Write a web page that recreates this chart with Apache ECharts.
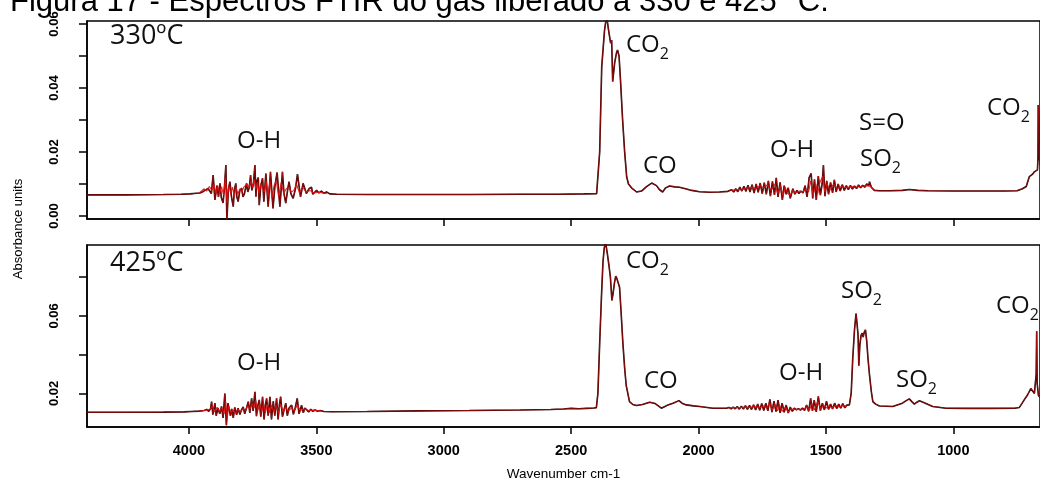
<!DOCTYPE html>
<html>
<head>
<meta charset="utf-8">
<script src="https://cdn.jsdelivr.net/npm/echarts@6/dist/echarts.min.js"></script>
<style>
html,body{margin:0;padding:0;background:#fff;}
#c{width:1040px;height:482px;}
</style>
</head>
<body>
<div id="c"></div>
<script>
// ---------- data (wavenumber cm-1, absorbance) ----------
const spec330 = [
[4400,0.0066],[4250,0.0066],[4100,0.0067],[4030,0.0068],[3996,0.0069],[3970,0.0071],[3957,0.0072],[3945,0.0076],[3937,0.0080],[3930,0.0074],[3925,0.0086],[3918,0.0090],[3912,0.0070],[3905,0.0128],[3898,0.0050],[3890,0.0095],[3884,0.0060],[3878,0.0102],[3873,0.0058],[3866,0.0041],[3861,0.0085],[3855,0.0159],[3851,-0.0013],[3845,0.0085],[3839,0.0107],[3833,0.0060],[3826,0.0029],[3822,0.0080],[3816,0.0102],[3812,0.0060],[3807,0.0045],[3800,0.0080],[3793,0.0087],[3788,0.0060],[3782,0.0070],[3774,0.0102],[3769,0.0075],[3763,0.0090],[3758,0.0128],[3753,0.0080],[3747,0.0100],[3741,0.0159],[3737,0.0060],[3733,0.0110],[3728,0.0120],[3724,0.0034],[3718,0.0095],[3711,0.0118],[3706,0.0045],[3698,0.0133],[3689,0.0029],[3680,0.0138],[3670,0.0024],[3663,0.0090],[3654,0.0136],[3643,0.0029],[3633,0.0138],[3627,0.0070],[3620,0.0040],[3612,0.0085],[3607,0.0107],[3600,0.0070],[3591,0.0055],[3582,0.0085],[3574,0.0131],[3562,0.0060],[3552,0.0102],[3539,0.0070],[3529,0.0085],[3519,0.0090],[3514,0.0068],[3499,0.0080],[3490,0.0072],[3480,0.0078],[3471,0.0071],[3460,0.0075],[3447,0.0069],[3420,0.0068],[3300,0.0067],[3100,0.0067],[2900,0.0067],[2700,0.0068],[2550,0.0068],[2450,0.0069],[2400,0.0070],[2396,0.0071],[2388,0.0200],[2380,0.0466],[2369,0.0580],[2361,0.0625],[2353,0.0580],[2345,0.0540],[2341,0.0550],[2337,0.0420],[2329,0.0480],[2322,0.0510],[2318,0.0519],[2312,0.0500],[2306,0.0420],[2298,0.0300],[2290,0.0200],[2282,0.0122],[2275,0.0100],[2263,0.0088],[2243,0.0075],[2224,0.0078],[2204,0.0092],[2184,0.0103],[2165,0.0095],[2153,0.0082],[2141,0.0075],[2129,0.0088],[2114,0.0094],[2094,0.0091],[2075,0.0090],[2051,0.0085],[2027,0.0080],[1996,0.0076],[1957,0.0074],[1918,0.0075],[1885,0.0077],
[1878,0.0078],[1870,0.0082],[1862,0.0075],[1854,0.0085],[1846,0.0076],[1838,0.0090],[1830,0.0078],[1822,0.0093],[1814,0.0077],[1806,0.0096],[1798,0.0075],[1790,0.0098],[1782,0.0072],[1774,0.0100],[1766,0.0074],[1758,0.0103],[1750,0.0070],[1742,0.0104],[1734,0.0068],[1726,0.0110],[1718,0.0062],[1710,0.0108],[1702,0.0066],[1695,0.0119],[1688,0.0060],[1680,0.0105],[1671,0.0050],[1664,0.0095],[1656,0.0068],[1648,0.0088],[1640,0.0055],[1637,0.0050],[1630,0.0085],[1622,0.0068],[1614,0.0080],[1606,0.0070],[1598,0.0078],[1590,0.0072],[1582,0.0095],[1574,0.0060],[1566,0.0120],[1558,0.0133],[1552,0.0055],[1545,0.0115],[1538,0.0050],[1530,0.0125],[1522,0.0065],[1515,0.0100],[1510,0.0159],[1504,0.0062],[1497,0.0110],[1490,0.0068],[1482,0.0105],[1474,0.0072],[1467,0.0113],[1460,0.0075],[1452,0.0100],[1444,0.0078],[1436,0.0098],[1428,0.0080],[1420,0.0095],[1412,0.0082],[1404,0.0096],[1396,0.0084],[1388,0.0094],[1380,0.0086],[1372,0.0097],[1364,0.0088],[1356,0.0096],[1348,0.0090],[1340,0.0100],[1332,0.0095],[1329,0.0107],[1322,0.0090],[1310,0.0080],[1290,0.0079],
[1250,0.0079],[1200,0.0080],[1173,0.0083],[1140,0.0080],[1100,0.0079],[1000,0.0078],[900,0.0078],[800,0.0078],[750,0.0079],[729,0.0085],[714,0.0092],[702,0.0123],[690,0.0130],[682,0.0138],[675,0.0142],[670,0.0144],[668,0.0180],[667,0.0347],[665,0.0300],[662,0.0180],[660,0.0160]
];
const red330OH = [
[3960,0.0072],[3940,0.0085],[3930,0.0078],[3920,0.0092],[3910,0.0080],[3902,0.0100],[3894,0.0070],[3887,0.0095],[3880,0.0072],[3872,0.0092],[3864,0.0065],[3857,0.0120],[3850,0.0040],[3843,0.0095],[3836,0.0070],[3829,0.0090],[3822,0.0060],[3815,0.0090],[3808,0.0068],[3800,0.0085],[3792,0.0075],[3785,0.0090],[3778,0.0085],[3771,0.0100],[3764,0.0088],[3757,0.0110],[3750,0.0090],[3744,0.0115],[3738,0.0085],[3731,0.0105],[3725,0.0070],[3718,0.0100],[3711,0.0085],[3704,0.0075],[3697,0.0110],[3690,0.0060],[3682,0.0110],[3674,0.0055],[3666,0.0095],[3657,0.0110],[3648,0.0060],[3638,0.0105],[3628,0.0070],[3618,0.0085],[3608,0.0090],[3598,0.0075],[3588,0.0080],[3578,0.0100],[3566,0.0072],[3554,0.0090],[3540,0.0075],[3525,0.0080],[3510,0.0072],[3490,0.0074],[3460,0.0070]
];
const red330Low = [
[1870,0.0080],[1850,0.0083],[1830,0.0082],[1810,0.0088],[1790,0.0090],[1775,0.0085],[1760,0.0095],[1745,0.0088],[1730,0.0098],[1715,0.0080],[1700,0.0100],[1690,0.0070],[1678,0.0095],[1668,0.0062],[1660,0.0090],[1650,0.0070],[1640,0.0065],[1632,0.0080],[1620,0.0072],[1605,0.0078],[1590,0.0075],[1578,0.0085],[1568,0.0075],[1560,0.0110],[1550,0.0065],[1540,0.0100],[1532,0.0070],[1524,0.0105],[1512,0.0125],[1505,0.0075],[1495,0.0100],[1485,0.0080],[1470,0.0100],[1455,0.0085],[1440,0.0092],[1420,0.0088],[1400,0.0092],[1380,0.0090],[1360,0.0093],[1340,0.0095],[1325,0.0092],[1310,0.0081]
];
const spec425 = [
[4400,0.0103],[4250,0.0103],[4100,0.0104],[4020,0.0105],[3990,0.0107],[3960,0.0109],[3940,0.0112],[3930,0.0118],[3922,0.0108],[3915,0.0122],[3911,0.0158],[3906,0.0091],[3898,0.0150],[3893,0.0085],[3886,0.0125],[3879,0.0095],[3872,0.0133],[3866,0.0074],[3859,0.0200],[3853,0.0036],[3847,0.0150],[3842,0.0141],[3837,0.0085],[3832,0.0120],[3826,0.0074],[3820,0.0128],[3813,0.0090],[3807,0.0124],[3800,0.0092],[3794,0.0115],[3787,0.0130],[3781,0.0095],[3774,0.0125],[3767,0.0158],[3761,0.0100],[3754,0.0175],[3748,0.0110],[3741,0.0208],[3735,0.0083],[3729,0.0140],[3724,0.0167],[3718,0.0080],[3711,0.0183],[3705,0.0066],[3700,0.0140],[3695,0.0175],[3689,0.0085],[3682,0.0183],[3676,0.0066],[3669,0.0160],[3663,0.0085],[3656,0.0175],[3650,0.0066],[3645,0.0140],[3640,0.0183],[3633,0.0080],[3626,0.0120],[3620,0.0150],[3614,0.0085],[3607,0.0125],[3597,0.0140],[3590,0.0092],[3583,0.0125],[3575,0.0175],[3568,0.0095],[3562,0.0120],[3558,0.0140],[3551,0.0100],[3545,0.0125],[3538,0.0130],[3530,0.0105],[3522,0.0118],[3514,0.0108],[3505,0.0115],[3495,0.0108],[3485,0.0112],[3470,0.0107],[3440,0.0106],
[3300,0.0107],[3100,0.0110],[2900,0.0112],[2700,0.0115],[2580,0.0117],[2530,0.0120],[2500,0.0123],[2470,0.0121],[2440,0.0123],[2410,0.0125],[2401,0.0127],[2395,0.0200],[2388,0.0460],[2381,0.0700],[2375,0.0880],[2370,0.0950],[2365,0.0980],[2358,0.0920],[2352,0.0864],[2346,0.0800],[2340,0.0679],[2336,0.0710],[2330,0.0770],[2325,0.0805],[2320,0.0790],[2316,0.0790],[2310,0.0747],[2304,0.0620],[2297,0.0460],[2290,0.0330],[2284,0.0242],[2271,0.0158],[2258,0.0143],[2244,0.0138],[2220,0.0143],[2192,0.0155],[2170,0.0148],[2146,0.0124],[2132,0.0133],[2120,0.0141],[2100,0.0150],[2077,0.0163],[2065,0.0150],[2048,0.0141],[2020,0.0136],[1996,0.0133],[1944,0.0124],[1910,0.0124],
[1891,0.0124],[1880,0.0128],[1872,0.0120],[1864,0.0130],[1856,0.0121],[1848,0.0133],[1840,0.0119],[1832,0.0134],[1824,0.0120],[1816,0.0137],[1808,0.0118],[1800,0.0138],[1792,0.0117],[1784,0.0142],[1776,0.0115],[1768,0.0145],[1760,0.0113],[1752,0.0148],[1744,0.0112],[1736,0.0150],[1728,0.0110],[1720,0.0170],[1712,0.0104],[1704,0.0160],[1696,0.0106],[1688,0.0165],[1680,0.0100],[1672,0.0150],[1664,0.0103],[1656,0.0140],[1648,0.0099],[1640,0.0130],[1632,0.0108],[1624,0.0124],[1616,0.0115],[1608,0.0122],[1600,0.0114],[1592,0.0125],[1584,0.0112],[1576,0.0140],[1568,0.0108],[1560,0.0175],[1553,0.0110],[1546,0.0165],[1538,0.0105],[1530,0.0185],[1522,0.0112],[1514,0.0150],[1506,0.0115],[1498,0.0160],[1490,0.0118],[1482,0.0145],[1474,0.0120],[1466,0.0150],[1458,0.0122],[1450,0.0145],[1442,0.0124],[1434,0.0148],[1426,0.0126],[1418,0.0140],
[1408,0.0141],[1401,0.0200],[1395,0.0376],[1388,0.0528],[1382,0.0612],[1378,0.0560],[1374,0.0500],[1371,0.0343],[1367,0.0450],[1362,0.0500],[1358,0.0511],[1354,0.0490],[1350,0.0515],[1345,0.0528],[1340,0.0470],[1335,0.0380],[1329,0.0294],[1322,0.0210],[1316,0.0158],[1305,0.0145],[1290,0.0135],[1238,0.0133],[1200,0.0150],[1185,0.0163],[1173,0.0172],[1163,0.0158],[1153,0.0145],[1143,0.0155],[1133,0.0162],[1110,0.0150],[1081,0.0133],[1029,0.0124],[950,0.0123],[850,0.0123],[760,0.0124],[741,0.0128],[730,0.0150],[722,0.0167],[715,0.0175],[709,0.0192],[702,0.0210],[696,0.0225],[690,0.0215],[682,0.0200],[678,0.0210],[675,0.0300],[673,0.0520],[671,0.0250],[666,0.0190],[660,0.0180]
];
const red425OH = [
[3960,0.0108],[3935,0.0113],[3918,0.0118],[3908,0.0135],[3900,0.0105],[3890,0.0128],[3880,0.0108],[3870,0.0125],[3862,0.0095],[3856,0.0160],[3850,0.0070],[3844,0.0135],[3835,0.0100],[3828,0.0115],[3818,0.0100],[3808,0.0118],[3798,0.0105],[3788,0.0120],[3778,0.0115],[3770,0.0135],[3760,0.0120],[3752,0.0150],[3744,0.0125],[3738,0.0165],[3730,0.0110],[3722,0.0145],[3714,0.0105],[3707,0.0150],[3700,0.0100],[3692,0.0145],[3684,0.0100],[3676,0.0140],[3666,0.0105],[3658,0.0140],[3648,0.0100],[3640,0.0145],[3630,0.0105],[3620,0.0130],[3610,0.0108],[3598,0.0125],[3586,0.0110],[3575,0.0140],[3562,0.0112],[3548,0.0120],[3530,0.0112],[3510,0.0114],[3480,0.0109]
];
const red425Low = [
[1880,0.0126],[1860,0.0127],[1840,0.0126],[1820,0.0130],[1800,0.0128],[1780,0.0132],[1760,0.0128],[1745,0.0135],[1732,0.0125],[1722,0.0150],[1710,0.0115],[1700,0.0145],[1690,0.0110],[1682,0.0140],[1672,0.0108],[1660,0.0128],[1648,0.0105],[1636,0.0120],[1620,0.0118],[1600,0.0118],[1585,0.0120],[1574,0.0130],[1564,0.0115],[1556,0.0150],[1545,0.0115],[1532,0.0160],[1520,0.0118],[1510,0.0140],[1500,0.0125],[1488,0.0135],[1476,0.0125],[1462,0.0138],[1448,0.0130],[1432,0.0138],[1418,0.0132]
];
const xTickValues = [4000, 3500, 3000, 2500, 2000, 1500, 1000];
const yTicks330 = [0, 0.01, 0.02, 0.03, 0.04, 0.05, 0.06];
const yLabels330 = [0, 0.02, 0.04, 0.06];
const yTicks425 = [0.02, 0.04, 0.06, 0.08];
const yLabels425 = [0.02, 0.06];
const titleText = 'Figura 17 - Espectros FTIR do gás liberado a 330 e 425 °C.';
const yName = 'Absorbance units';
const xName = 'Wavenumber cm-1';

// ---------- chart ----------
const chart = echarts.init(document.getElementById('c'), null, {renderer: 'canvas'});
const tickFont = "'Liberation Sans',Arial,sans-serif";
const annFont = "'Open Sans',sans-serif";

function xAxisCfg(gi, labels) {
  return {
    gridIndex: gi, type: 'value', min: 660, max: 4400, inverse: true,
    axisLine: {show: true, onZero: false, lineStyle: {color: '#000', width: 1.5}},
    axisTick: {show: true, length: 7, customValues: xTickValues, lineStyle: {color: '#000', width: 1.5}},
    axisLabel: {show: labels, customValues: xTickValues, margin: 16, color: '#000',
      fontFamily: tickFont, fontSize: 14.5, fontWeight: 'bold', formatter: v => String(v)},
    splitLine: {show: false},
    name: labels ? xName : '', nameLocation: 'middle', nameGap: 40,
    nameTextStyle: {fontFamily: "'Liberation Sans',Arial,sans-serif", fontSize: 13.5, color: '#000'}
  };
}
function yAxisCfg(gi, min, max, ticks, labels) {
  return {
    gridIndex: gi, type: 'value', min: min, max: max,
    axisLine: {show: true, onZero: false, lineStyle: {color: '#000', width: 1.5}},
    axisTick: {show: true, length: 8, customValues: ticks, lineStyle: {color: '#000', width: 1.5}},
    axisLabel: {show: true, customValues: labels, rotate: 90, margin: 26, color: '#000',
      fontFamily: tickFont, fontSize: 13, fontWeight: 'bold',
      formatter: v => Number(v).toFixed(2)},
    splitLine: {show: false}
  };
}
function lineSeries(gi, data, color, width, opacity, z) {
  return {
    type: 'line', xAxisIndex: gi, yAxisIndex: gi, data: data,
    showSymbol: false, symbol: 'none', silent: true, z: z,
    lineStyle: {color: color, width: width, opacity: opacity}
  };
}
function chem(x, y, main, sub) {
  const txt = sub ? '{m|' + main + '}{s|' + sub + '}' : '{m|' + main + '}';
  return {
    type: 'text', x: x, y: y, silent: true,
    style: {
      text: txt, verticalAlign: 'top', align: 'left', fill: '#111',
      rich: {
        m: {fontFamily: annFont, fontSize: 24, lineHeight: 24, verticalAlign: 'top', fill: '#111'},
        s: {fontFamily: annFont, fontSize: 16, lineHeight: 16, verticalAlign: 'top', padding: [13, 0, 0, 0], fill: '#111'}
      }
    }
  };
}
function temp(x, y, t) {
  return {
    type: 'text', x: x, y: y, silent: true,
    style: {text: t, fontFamily: annFont, fontSize: 27, fill: '#111', verticalAlign: 'top', align: 'left'}
  };
}

const option = {
  animation: false,
  backgroundColor: '#fff',
  grid: [
    {left: 87, top: 21, width: 954, height: 198, show: true, borderColor: '#000', borderWidth: 1.5, backgroundColor: 'transparent'},
    {left: 87, top: 245, width: 954, height: 186, show: true, borderColor: '#000', borderWidth: 1.5, backgroundColor: 'transparent'}
  ],
  xAxis: [xAxisCfg(0, false), xAxisCfg(1, true)],
  yAxis: [
    yAxisCfg(0, -0.0009375, 0.0609375, yTicks330, yLabels330),
    yAxisCfg(1, 0.00271, 0.09649, yTicks425, yLabels425)
  ],
  series: [
    lineSeries(0, spec330, '#2a0505', 1.6, 1, 2),
    lineSeries(0, spec330, '#d01010', 0.8, 0.7, 3),
    lineSeries(0, red330OH, '#e31010', 1.1, 0.9, 4),
    lineSeries(0, red330Low, '#e31010', 1.1, 0.9, 4),
    lineSeries(1, spec425, '#2a0505', 1.6, 1, 2),
    lineSeries(1, spec425, '#d01010', 0.8, 0.7, 3),
    lineSeries(1, red425OH, '#e31010', 1.1, 0.9, 4),
    lineSeries(1, red425Low, '#e31010', 1.1, 0.9, 4)
  ],
  graphic: [
    {type: 'text', x: 10, y: -13, silent: true,
     style: {text: titleText, fontFamily: "'Liberation Sans',Arial,sans-serif", fontSize: 31, fill: '#000', verticalAlign: 'top', align: 'left'}},
    {type: 'text', x: 18, y: 229, rotation: Math.PI / 2, silent: true,
     style: {text: yName, fontFamily: "'Liberation Sans',Arial,sans-serif", fontSize: 13, fill: '#000', align: 'center', verticalAlign: 'middle'}},
    temp(110, 23, '330ºC'),
    chem(626, 33, 'CO', '2'),
    chem(237, 129, 'O-H'),
    chem(643, 154, 'CO'),
    chem(770, 138, 'O-H'),
    chem(859, 111, 'S=O'),
    chem(860, 147, 'SO', '2'),
    chem(987, 96, 'CO', '2'),
    temp(110, 250, '425ºC'),
    chem(626, 249, 'CO', '2'),
    chem(841, 279, 'SO', '2'),
    chem(996, 294, 'CO', '2'),
    chem(644, 369, 'CO'),
    chem(779, 361, 'O-H'),
    chem(896, 368, 'SO', '2'),
    chem(237, 351, 'O-H')
  ]
};
chart.setOption(option);
</script>
</body>
</html>
